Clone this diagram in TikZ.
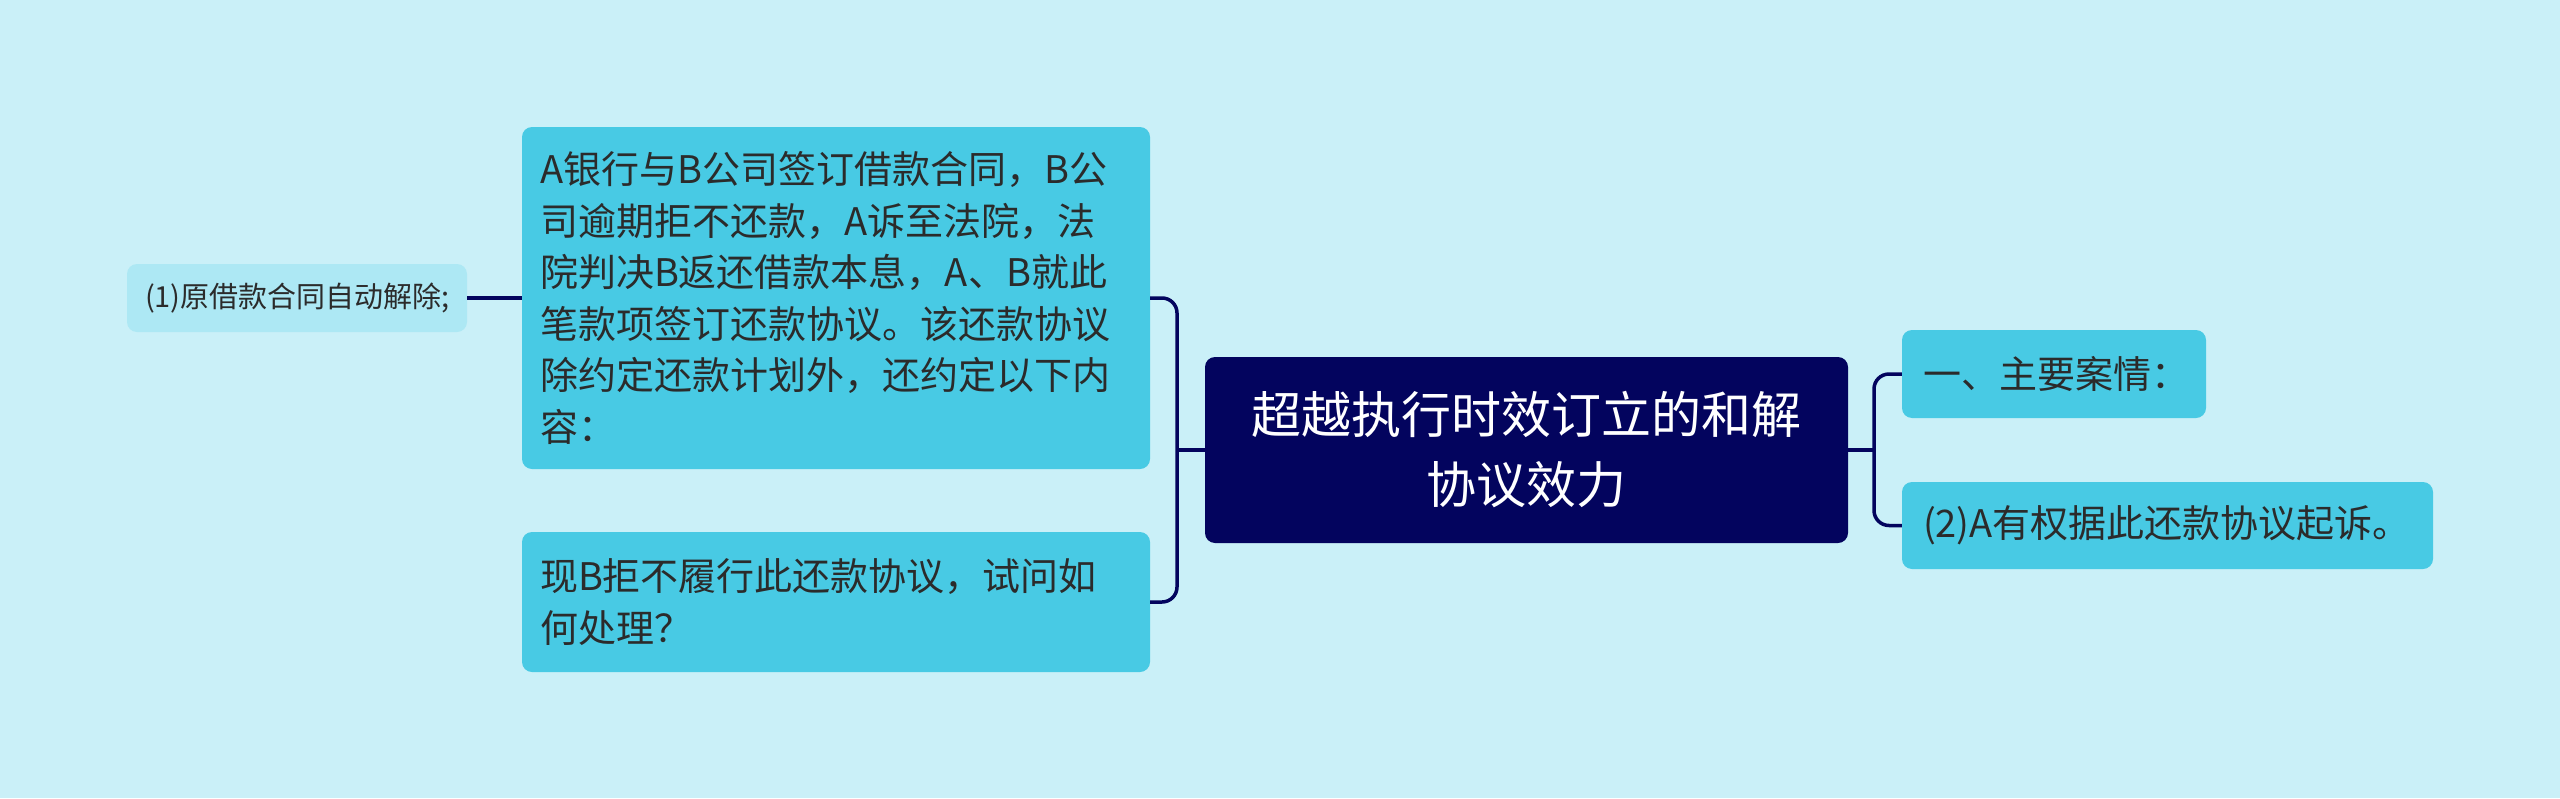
\documentclass[tikz,border=0pt]{standalone}
\usepackage{fontspec}
\setmainfont{Noto Sans CJK SC}
\usepackage{xcolor}
\usepackage{tikz}
\usetikzlibrary{backgrounds,calc}
\definecolor{bgcyan}{HTML}{CAF0F8}
\definecolor{boxcyan}{HTML}{48CAE4}
\definecolor{leafcyan}{HTML}{ADE8F4}
\definecolor{navy}{HTML}{03045E}
\definecolor{txtgray}{HTML}{2B2B2B}

\begin{document}
\begin{tikzpicture}[x=1pt,y=-1pt,
  card/.style={rectangle, rounded corners=10pt, fill=boxcyan, text=txtgray, align=left, inner ysep=0pt, inner xsep=18pt, font=\fontsize{38}{51.6}\selectfont},
  leafcard/.style={card, fill=leafcyan, font=\fontsize{29}{36}\selectfont},
  topic/.style={rectangle, rounded corners=10pt, fill=navy, text=white, align=center, inner ysep=0pt, inner xsep=20pt, font=\fontsize{50}{70}\selectfont},
  link/.style={draw=navy, line width=3.5pt, rounded corners=15pt}]
\fill[bgcyan] (0,0) rectangle (2560,798);
\useasboundingbox (0,0) rectangle (2560,798);
\node[topic, text width=603pt, minimum height=186pt] (main) at (1526.5,450) {超越执行时效订立的和解\\协议效力};
\node[card, text width=592pt, minimum height=342pt] (desc) at (836,298) {A银行与B公司签订借款合同，B公\\司逾期拒不还款，A诉至法院，法\\院判决B返还借款本息，A、B就此\\笔款项签订还款协议。该还款协议\\除约定还款计划外，还约定以下内\\容：};
\node[card, text width=592pt, minimum height=140pt] (quest) at (836,602) {现B拒不履行此还款协议，试问如\\何处理？};
\node[leafcard, text width=304pt, minimum height=68pt] (leaf) at (297,298) {(1)原借款合同自动解除;};
\node[card, inner xsep=21pt, text width=262pt, minimum height=88pt] (case) at (2054,374) {一、主要案情：};
\node[card, inner xsep=21pt, text width=489pt, minimum height=87pt] (sue) at (2167.5,525.5) {(2)A有权据此还款协议起诉。};
\coordinate (lj) at (1177,450);
\coordinate (rj) at (1874,450);
\draw[link] (desc.east) -| (lj) |- (quest.east);
\draw[link] (main.west) -- (lj);
\draw[link] (leaf.east) -- (desc.west);
\draw[link] (main.east) -- (rj);
\draw[link] (case.west) -| (rj) |- (sue.west);
\end{tikzpicture}
\end{document}
